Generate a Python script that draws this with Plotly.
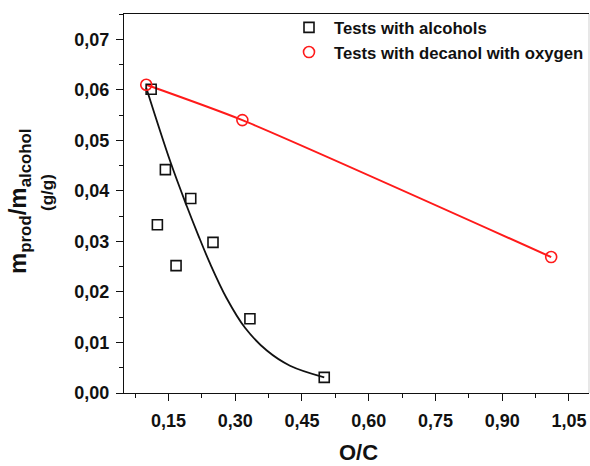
import plotly.graph_objects as go

# Alcohol tests: O/C ratio vs product yield (g/g)
alc_oc = [0.111, 0.125, 0.143, 0.167, 0.200, 0.250, 0.333, 0.500]
alc_yield = [0.0601, 0.0333, 0.0442, 0.0252, 0.0385, 0.0298, 0.0147, 0.0031]

# Fitted trend through the alcohol tests
alc_fit_oc = [0.100, 0.154, 0.191, 0.217, 0.244, 0.281, 0.322, 0.371, 0.423, 0.500]
alc_fit_yield = [0.0604, 0.0458, 0.0370, 0.0312, 0.0255, 0.0187, 0.0129, 0.0084, 0.0054, 0.0031]

# Decanol tests with added oxygen
dec_oc = [0.100, 0.316, 1.010]
dec_yield = [0.0610, 0.0540, 0.0269]

x_ticks = [0.15, 0.30, 0.45, 0.60, 0.75, 0.90, 1.05]
y_ticks = [0.00, 0.01, 0.02, 0.03, 0.04, 0.05, 0.06, 0.07]

W, H = 590, 466
ML, MR, MT, MB = 124, 1, 14, 73

fig = go.Figure()

fig.add_trace(go.Scatter(
    x=alc_fit_oc, y=alc_fit_yield, mode="lines",
    line=dict(color="#111111", width=1.8, shape="spline"),
    showlegend=False, hoverinfo="skip",
))
fig.add_trace(go.Scatter(
    x=dec_oc, y=dec_yield, mode="lines",
    line=dict(color="#ff1a1a", width=2, shape="spline", smoothing=0.6),
    showlegend=False, hoverinfo="skip",
))
fig.add_trace(go.Scatter(
    x=alc_oc, y=alc_yield, mode="markers", name="Tests with alcohols",
    marker=dict(symbol="square-open", size=10, color="#111111",
                line=dict(width=1.6, color="#111111")),
))
fig.add_trace(go.Scatter(
    x=dec_oc, y=dec_yield, mode="markers", name="Tests with decanol with oxygen",
    marker=dict(symbol="circle-open", size=11, color="#ff1a1a",
                line=dict(width=1.6, color="#ff1a1a")),
))

tick_font = dict(family="Liberation Sans, Arial, sans-serif", size=18,
                 color="#111111", weight="bold")

fig.update_xaxes(
    range=[0.05, 1.095], tickvals=x_ticks, tickformat=".2f",
    showline=True, linecolor="#111111", linewidth=1.3, mirror=True,
    ticks="outside", ticklen=7, tickwidth=1.3, tickcolor="#111111",
    minor=dict(dtick=0.075, tick0=0.075, ticks="outside", ticklen=4,
               tickwidth=1.3, tickcolor="#111111"),
    showgrid=False, zeroline=False, tickfont=tick_font, ticklabelstandoff=4,
)
fig.update_yaxes(
    range=[0, 0.075], tickvals=y_ticks, tickformat=".2f",
    showline=True, linecolor="#111111", linewidth=1.3, mirror=False,
    ticks="outside", ticklen=7, tickwidth=1.3, tickcolor="#111111",
    minor=dict(dtick=0.005, tick0=0, ticks="outside", ticklen=4,
               tickwidth=1.3, tickcolor="#111111"),
    showgrid=False, zeroline=False, tickfont=tick_font, ticklabelstandoff=3,
)

pw = W - ML - MR
ph = H - MT - MB

def px_x(p):
    return (p - ML) / pw

def px_y(p):
    return (H - MB - p) / ph

title_font = dict(family="Liberation Sans, Arial, sans-serif", color="#111111", weight="bold")

fig.add_annotation(
    text="O/C", x=px_x(358), y=px_y(452), xref="paper", yref="paper",
    xanchor="center", yanchor="middle",
    showarrow=False, font=dict(size=22, **title_font),
)
fig.add_annotation(
    text="m<sub>prod</sub>/m<sub>alcohol</sub>",
    x=px_x(19), y=px_y(202), xref="paper", yref="paper", textangle=-90,
    xanchor="center", yanchor="middle",
    showarrow=False, font=dict(size=24, **title_font),
)
fig.add_annotation(
    text="(g/g)", x=px_x(47), y=px_y(193), xref="paper", yref="paper",
    xanchor="center", yanchor="middle",
    textangle=-90, showarrow=False, font=dict(size=17, **title_font),
)

# faint right border of the frame
fig.add_shape(type="line", xref="paper", yref="paper", x0=1, x1=1, y0=0, y1=1,
              line=dict(color="#d8d8d8", width=1.2))

fig.update_layout(
    width=W, height=H, margin=dict(l=ML, r=MR, t=MT, b=MB),
    paper_bgcolor="white", plot_bgcolor="white",
    separators=", ",
    legend=dict(
        x=px_x(284), y=px_y(10), xanchor="left", yanchor="top",
        bgcolor="rgba(0,0,0,0)", borderwidth=0, itemwidth=40,
        font=dict(family="Liberation Sans, Arial, sans-serif", size=16.7,
                  color="#111111", weight="bold"),
    ),
)

fig.write_html("out.html")
